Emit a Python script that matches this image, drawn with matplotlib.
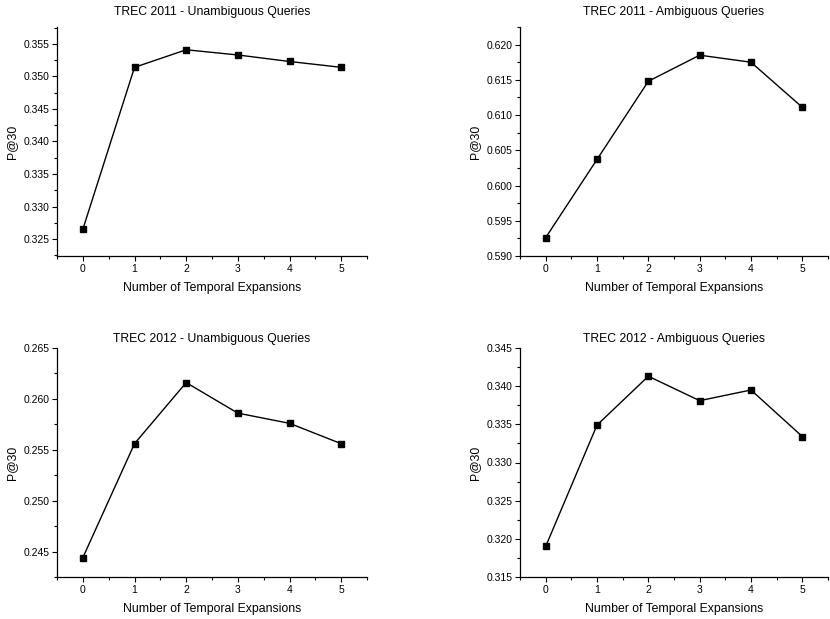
import numpy as np
import matplotlib.pyplot as plt
from matplotlib.ticker import MultipleLocator, FormatStrFormatter

plt.rcParams['font.family'] = ['Liberation Sans', 'DejaVu Sans']

# Data
expansions = [0, 1, 2, 3, 4, 5]
trec2011_unamb = [0.3265, 0.3514, 0.3541, 0.3533, 0.3523, 0.3514]
trec2011_amb = [0.5926, 0.6037, 0.6148, 0.6185, 0.6175, 0.6111]
trec2012_unamb = [0.2444, 0.2556, 0.2616, 0.2586, 0.2576, 0.2556]
trec2012_amb = [0.3190, 0.3349, 0.3413, 0.3381, 0.3395, 0.3334]

titles = ["TREC 2011 - Unambiguous Queries", "TREC 2011 - Ambiguous Queries",
          "TREC 2012 - Unambiguous Queries", "TREC 2012 - Ambiguous Queries"]
series = [trec2011_unamb, trec2011_amb, trec2012_unamb, trec2012_amb]
ylims = [(0.3224, 0.3576), (0.590, 0.6225), (0.2425, 0.265), (0.315, 0.345)]

fig = plt.figure(figsize=(8.3, 6.19), dpi=100)
W, H = 830, 619
# axes boxes in pixels: left, top, right, bottom
boxes = [(57, 27, 367, 256), (520, 27, 828, 256),
         (57, 348, 367, 577), (520, 348, 828, 577)]
title_pads = [9, 9, 4, 4]

for box, title, vals, ylim, pad in zip(boxes, titles, series, ylims, title_pads):
    l, t, r, b = box
    ax = fig.add_axes([l / W, 1 - b / H, (r - l) / W, (b - t) / H])
    ax.plot(expansions, vals, color='black', lw=1.0, marker='s', markersize=4.5)
    ax.set_xlim(-0.5, 5.5)
    ax.set_ylim(*ylim)
    ax.xaxis.set_major_locator(MultipleLocator(1))
    ax.xaxis.set_minor_locator(MultipleLocator(0.5))
    ax.yaxis.set_major_locator(MultipleLocator(0.005))
    ax.yaxis.set_minor_locator(MultipleLocator(0.0025))
    ax.yaxis.set_major_formatter(FormatStrFormatter('%.3f'))
    ax.spines['top'].set_visible(False)
    ax.spines['right'].set_visible(False)
    ax.spines['left'].set_linewidth(0.9)
    ax.spines['bottom'].set_linewidth(0.9)
    ax.tick_params(which='major', direction='out', length=3.6, width=0.8,
                   labelsize=7.5, pad=2)
    ax.tick_params(which='minor', direction='out', length=2, width=0.8)
    ax.set_title(title, fontsize=8.8, pad=pad)
    ax.set_xlabel("Number of Temporal Expansions", fontsize=8.8, labelpad=6)
    ax.set_ylabel("P@30", fontsize=8.8, labelpad=4)

fig.savefig("out.png", dpi=100)
